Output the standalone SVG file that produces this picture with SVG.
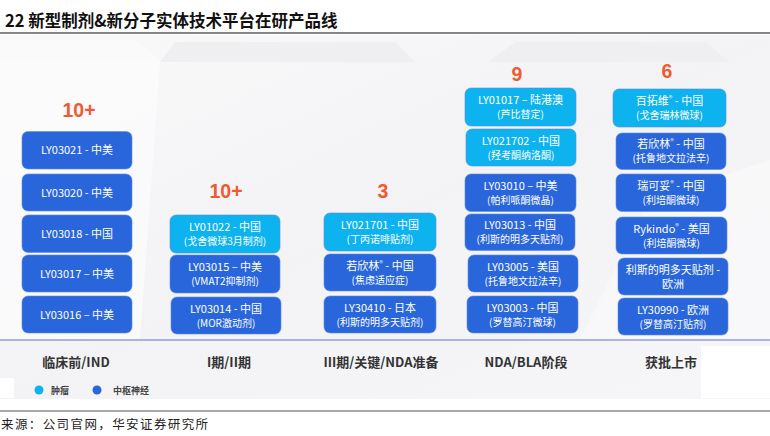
<svg xmlns="http://www.w3.org/2000/svg" width="770" height="436" viewBox="0 0 770 436">
<defs>
<linearGradient id="bg" x1="0" y1="0" x2="1" y2="1">
<stop offset="0" stop-color="#f9f9fa"/>
<stop offset="0.5" stop-color="#f3f3f5"/>
<stop offset="1" stop-color="#f6f6f8"/>
</linearGradient>
</defs>
<style>
.title{font-family:"Noto Sans CJK SC","Liberation Sans",sans-serif;font-size:16.5px;font-weight:700;fill:#111}
.num{font-family:"Liberation Sans","Noto Sans CJK SC",sans-serif;font-size:19.5px;font-weight:700;fill:#f05a30;text-anchor:middle}
.cy{fill:#0db3ee}
.bl{fill:#2a66db}
.bx{stroke:#5d8ce6;stroke-width:0.6}
.t1{font-family:"Noto Sans CJK SC","Liberation Sans",sans-serif;font-size:11px;fill:#ffffff;text-anchor:middle}
.t2{font-family:"Noto Sans CJK SC","Liberation Sans",sans-serif;font-size:10px;fill:#ffffff;text-anchor:middle}
.sup{font-size:7.5px}
.stage{font-family:"Noto Sans CJK SC","Liberation Sans",sans-serif;font-size:13px;font-weight:700;fill:#333;text-anchor:middle}
.leg{font-family:"Noto Sans CJK SC",sans-serif;font-size:9px;font-weight:700;fill:#444}
.src{font-family:"Noto Sans CJK SC",serif;font-size:12.5px;fill:#222;letter-spacing:1.4px}
</style>
<rect width="770" height="436" fill="#ffffff"/>
<g id="background">
<rect x="0" y="35" width="770" height="364" fill="url(#bg)"/>
<polygon points="0,40 135,40 160,60 0,60" fill="#fafafa"/>
<polygon points="175,42 395,42 415,62 160,62" fill="#efeff1"/>
<polygon points="515,42 705,42 730,62 488,62" fill="#efeff1"/>
<polygon points="0,60 160,60 140,340 0,340" fill="#fbfbfc" opacity="0.8"/>
<polygon points="580,340 650,200 770,160 770,340" fill="#f9f9fa" opacity="0.8"/>
<rect x="701" y="346" width="69" height="52" fill="#ffffff"/>
<rect x="0" y="378" width="14" height="20" fill="#ffffff"/>
</g>
<g id="header">
<text class="title" x="5" y="27">22 新型制剂&amp;新分子实体技术平台在研产品线</text>
<line x1="0" y1="33" x2="770" y2="33" stroke="#858585" stroke-width="2"/>
</g>
<g id="connectors">
<line x1="0" y1="340" x2="770" y2="340" stroke="#8f9fd8" stroke-width="1.5"/>
<line x1="0" y1="411" x2="770" y2="411" stroke="#555555" stroke-width="1.2"/>
</g>
<g id="counts">
<text class="num" x="79" y="117">10+</text>
<text class="num" x="226" y="198">10+</text>
<text class="num" x="383" y="198">3</text>
<text class="num" x="517" y="81">9</text>
<text class="num" x="667" y="78">6</text>
</g>
<g id="col1">
<g id="n-LY03021"><rect class="bl bx" x="22" y="131.5" width="110" height="37.5" rx="6"/><text class="t1" x="77" y="154">LY03021 - 中美</text></g>
<g id="n-LY03020"><rect class="bl bx" x="22" y="174" width="110" height="37" rx="6"/><text class="t1" x="77" y="196.5">LY03020 - 中美</text></g>
<g id="n-LY03018"><rect class="bl bx" x="22" y="215" width="110" height="37.5" rx="6"/><text class="t1" x="77" y="238">LY03018 - 中国</text></g>
<g id="n-LY03017"><rect class="bl bx" x="22" y="255" width="110" height="37" rx="6"/><text class="t1" x="77" y="277.5">LY03017 – 中美</text></g>
<g id="n-LY03016"><rect class="bl bx" x="22" y="296" width="110" height="37" rx="6"/><text class="t1" x="77" y="318.5">LY03016 – 中美</text></g>
</g>
<g id="col2">
<g id="n-LY01022"><rect class="cy bx" x="170" y="215" width="110" height="38" rx="6"/><text class="t1" x="225" y="231">LY01022 - 中国</text><text class="t2" x="225" y="245">(戈舍微球3月制剂)</text></g>
<g id="n-LY03015"><rect class="bl bx" x="170" y="255" width="110" height="38" rx="6"/><text class="t1" x="225" y="271">LY03015 – 中美</text><text class="t2" x="225" y="285">(VMAT2抑制剂)</text></g>
<g id="n-LY03014"><rect class="bl bx" x="171" y="297" width="110" height="37" rx="6"/><text class="t1" x="226" y="312.5">LY03014 - 中国</text><text class="t2" x="226" y="326.5">(MOR激动剂)</text></g>
</g>
<g id="col3">
<g id="n-LY021701"><rect class="cy bx" x="324" y="213" width="112" height="38" rx="6"/><text class="t1" x="380" y="229">LY021701 - 中国</text><text class="t2" x="380" y="243">(丁丙诺啡贴剂)</text></g>
<g id="n-ruoxinlin3"><rect class="bl bx" x="324" y="254" width="112" height="37" rx="6"/><text class="t1" x="380" y="269.5">若欣林<tspan class="sup" dy="-4">®</tspan><tspan dy="4"> - 中国</tspan></text><text class="t2" x="380" y="283.5">(焦虑适应症)</text></g>
<g id="n-LY30410"><rect class="bl bx" x="324" y="296" width="112" height="37" rx="6"/><text class="t1" x="380" y="311.5">LY30410 - 日本</text><text class="t2" x="380" y="325.5">(利斯的明多天贴剂)</text></g>
</g>
<g id="col4">
<g id="n-LY01017"><rect class="cy bx" x="465" y="88" width="111" height="38" rx="6"/><text class="t1" x="520.5" y="104">LY01017 – 陆港澳</text><text class="t2" x="520.5" y="118">(芦比替定)</text></g>
<g id="n-LY021702"><rect class="cy bx" x="466" y="129" width="110" height="37" rx="6"/><text class="t1" x="521" y="144.5">LY021702 - 中国</text><text class="t2" x="521" y="158.5">(羟考酮纳洛酮)</text></g>
<g id="n-LY03010"><rect class="bl bx" x="465" y="174" width="111" height="37.5" rx="6"/><text class="t1" x="520.5" y="189.5">LY03010 – 中美</text><text class="t2" x="520.5" y="203.5">(帕利哌酮微晶)</text></g>
<g id="n-LY03013"><rect class="bl bx" x="465" y="214" width="110" height="36.5" rx="6"/><text class="t1" x="520" y="229">LY03013 - 中国</text><text class="t2" x="520" y="243">(利斯的明多天贴剂)</text></g>
<g id="n-LY03005"><rect class="bl bx" x="468" y="255" width="110" height="37" rx="6"/><text class="t1" x="523" y="270.5">LY03005 - 美国</text><text class="t2" x="523" y="284.5">(托鲁地文拉法辛)</text></g>
<g id="n-LY03003"><rect class="bl bx" x="467" y="296" width="111" height="37" rx="6"/><text class="t1" x="522.5" y="311.5">LY03003 - 中国</text><text class="t2" x="522.5" y="325.5">(罗替高汀微球)</text></g>
</g>
<g id="col5">
<g id="n-baituowei"><rect class="cy bx" x="613" y="89" width="113" height="38" rx="6"/><text class="t1" x="669.5" y="105">百拓维<tspan class="sup" dy="-4">®</tspan><tspan dy="4"> - 中国</tspan></text><text class="t2" x="669.5" y="119">(戈舍瑞林微球)</text></g>
<g id="n-ruoxinlin5"><rect class="bl bx" x="616" y="133" width="110" height="36.5" rx="6"/><text class="t1" x="671" y="148">若欣林<tspan class="sup" dy="-4">®</tspan><tspan dy="4"> - 中国</tspan></text><text class="t2" x="671" y="162">(托鲁地文拉法辛)</text></g>
<g id="n-ruikeyue"><rect class="bl bx" x="616" y="174" width="110" height="37.5" rx="6"/><text class="t1" x="671" y="189.5">瑞可妥<tspan class="sup" dy="-4">®</tspan><tspan dy="4"> - 中国</tspan></text><text class="t2" x="671" y="203.5">(利培酮微球)</text></g>
<g id="n-rykindo"><rect class="bl bx" x="616" y="217" width="111" height="37" rx="6"/><text class="t1" x="671.5" y="232.5">Rykindo<tspan class="sup" dy="-4">®</tspan><tspan dy="4"> - 美国</tspan></text><text class="t2" x="671.5" y="246.5">(利培酮微球)</text></g>
<g id="n-lisidiming"><rect class="bl bx" x="618" y="258" width="110" height="37" rx="6"/><text class="t1" x="673" y="273.5">利斯的明多天贴剂 - </text><text class="t1" x="673" y="288">欧洲</text></g>
<g id="n-LY30990"><rect class="bl bx" x="618" y="298" width="110" height="37" rx="6"/><text class="t1" x="673" y="313.5">LY30990 - 欧洲</text><text class="t2" x="673" y="327.5">(罗替高汀贴剂)</text></g>
</g>
<g id="stages">
<text class="stage" x="76" y="367">临床前/IND</text>
<text class="stage" x="229" y="367">I期/II期</text>
<text class="stage" x="381" y="367">III期/关键/NDA准备</text>
<text class="stage" x="526" y="367">NDA/BLA阶段</text>
<text class="stage" x="671" y="367">获批上市</text>
</g>
<g id="legend">
<circle cx="39" cy="390" r="4.5" fill="#0db3ee"/>
<text class="leg" x="51" y="393.5">肿瘤</text>
<circle cx="97" cy="390" r="4.5" fill="#2a66db"/>
<text class="leg" x="113" y="393.5">中枢神经</text>
</g>
<g id="source">
<text class="src" x="1" y="429">来源：公司官网，华安证券研究所</text>
</g>
</svg>
